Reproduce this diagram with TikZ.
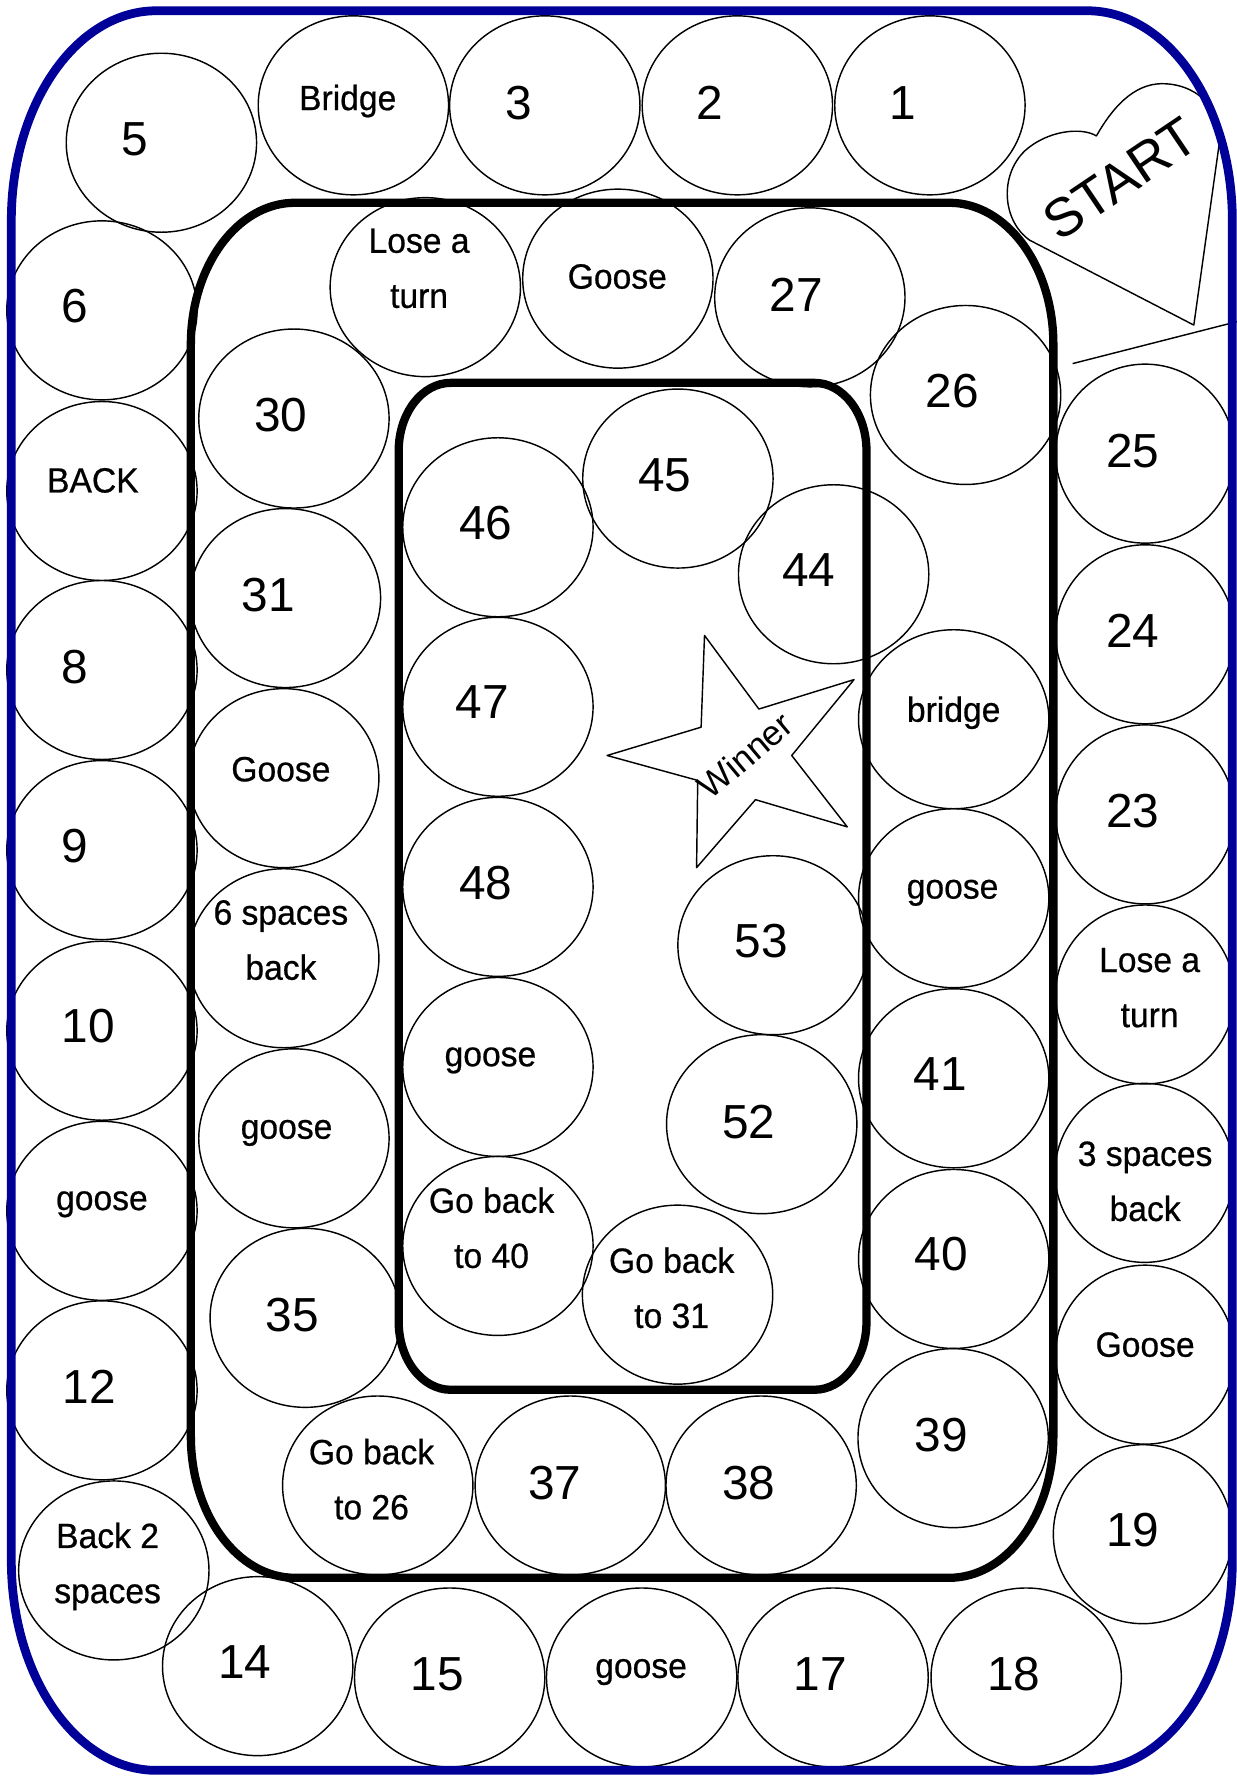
\documentclass[tikz,border=0pt]{standalone}
\usepackage{fontspec}
\setmainfont{Liberation Sans}
\newfontfamily\wordfont[FakeBold=0.6, FakeStretch=0.96]{Liberation Sans}
\usetikzlibrary{shapes.geometric}
\definecolor{boardblue}{RGB}{0,0,153}
\tikzset{
 spot/.style={ellipse, draw, line width=0.9pt, minimum width=4.2cm, minimum height=3.95cm, inner sep=0pt},
 spotn/.style={spot, minimum width=3.95cm},
 numlabel/.style={font=\fontsize{30}{36}\selectfont, inner sep=0pt, text depth=0pt},
 wordlabel/.style={font=\wordfont\fontsize{22}{34.6}\selectfont, inner sep=0pt, text depth=0pt},
 twolabel/.style={font=\wordfont\fontsize{22}{34.6}\selectfont, inner sep=0pt, align=center},
 ringline/.style={line width=5.2pt},
 blueedge/.style={draw=boardblue, line width=5.5pt},
 thinline/.style={line width=0.9pt, line join=round}
}
\begin{document}
\begin{tikzpicture}[x=0.025cm,y=-0.025cm]
\useasboundingbox (0,0) rectangle (1092,1568);
\fill[white] (0,0) rectangle (1092,1568);

% ---------- outer ring ----------
\node[spot] (o5) at (142.5,126) {};
\node[spot] (o4) at (312,93) {};
\node[spot] (o3) at (481,93) {};
\node[spot] (o2) at (651,93) {};
\node[spot] (o1) at (821,93) {};
\node[spot] (o6) at (90,274) {};
\node[spot] (o7) at (90,433.5) {};
\node[spot] (o8) at (90,591.5) {};
\node[spot] (o9) at (90,750.5) {};
\node[spot] (o10) at (90,910) {};
\node[spot] (o11) at (90,1069) {};
\node[spot] (o12) at (90,1227.5) {};
\node[spot] (o13) at (100.5,1386.5) {};
\node[spot] (o14) at (227.5,1471) {};
\node[spot] (o15) at (397,1481) {};
\node[spot] (o16) at (566.5,1481) {};
\node[spot] (o17) at (735.5,1481) {};
\node[spot] (o18) at (906,1481) {};
\node[spotn] (o19) at (1009,1354.5) {};
\node[spotn] (o20) at (1011,1196) {};
\node[spotn] (o21) at (1010.5,1035.5) {};
\node[spotn] (o22) at (1011,878) {};
\node[spotn] (o23) at (1011,719) {};
\node[spotn] (o24) at (1011,560) {};
\node[spotn] (o25) at (1011,400.5) {};

\node[numlabel] (t5) at (119,123) {5};
\node[wordlabel] (t4) at (307,86) {Bridge};
\node[numlabel] (t3) at (458,91) {3};
\node[numlabel] (t2) at (627,91) {2};
\node[numlabel] (t1) at (797,91) {1};
\node[numlabel] (t6) at (66,270) {6};
\node[wordlabel] (t7) at (82,424) {BACK};
\node[numlabel] (t8) at (66,589) {8};
\node[numlabel] (t9) at (66,747) {9};
\node[numlabel] (t10) at (78,906) {10};
\node[wordlabel] (t11) at (90,1060) {goose};
\node[numlabel] (t12) at (79,1224) {12};
\node[twolabel] (t13) at (95,1383) {Back 2\\spaces};
\node[numlabel] (t14) at (216,1467) {14};
\node[numlabel] (t15) at (386,1478) {15};
\node[wordlabel] (t16) at (566,1473) {goose};
\node[numlabel] (t17) at (724,1478) {17};
\node[numlabel] (t18) at (895,1478) {18};
\node[numlabel] (t19) at (1000,1351) {19};
\node[wordlabel] (t20) at (1011,1187) {Goose};
\node[twolabel] (t21) at (1011,1043) {3 spaces\\back};
\node[twolabel] (t22) at (1015,872) {Lose a\\turn};
\node[numlabel] (t23) at (1000,716) {23};
\node[numlabel] (t24) at (1000,557) {24};
\node[numlabel] (t25) at (1000,398) {25};

% ---------- middle ring ----------
\node[spot] (m26) at (852.5,348.7) {};
\node[spot] (m27) at (715,262.5) {};
\node[spot] (m28) at (545.5,246) {};
\node[spot] (m29) at (375.5,253.5) {};
\node[spot] (m30) at (259.5,369.5) {};
\node[spot] (m31) at (252,528) {};
\node[spot] (m32) at (250.5,687) {};
\node[spot] (m33) at (250.5,846) {};
\node[spot] (m34) at (259.5,1005) {};
\node[spot] (m35) at (269.5,1163.5) {};
\node[spot] (m36) at (333.5,1311.5) {};
\node[spot] (m37) at (503.5,1311.5) {};
\node[spot] (m38) at (672,1311.5) {};
\node[spot] (m39) at (841.5,1269.7) {};
\node[spot] (m40) at (842,1111.5) {};
\node[spot] (m41) at (842,952) {};
\node[spot] (m42) at (842,793) {};
\node[spot] (m43) at (842,635) {};

\node[numlabel] (u26) at (841,345) {26};
\node[numlabel] (u27) at (703,260) {27};
\node[wordlabel] (u28) at (545,244) {Goose};
\node[twolabel] (u29) at (370,237) {Lose a\\turn};
\node[numlabel] (u30) at (248,366) {30};
\node[numlabel] (u31) at (237,525) {31};
\node[wordlabel] (u32) at (248,679) {Goose};
\node[twolabel] (u33) at (248,830) {6 spaces\\back};
\node[wordlabel] (u34) at (253,997) {goose};
\node[numlabel] (u35) at (258,1161) {35};
\node[twolabel] (u36) at (328,1306) {Go back\\to 26};
\node[numlabel] (u37) at (490,1309) {37};
\node[numlabel] (u38) at (661,1309) {38};
\node[numlabel] (u39) at (831,1267) {39};
\node[numlabel] (u40) at (831,1107) {40};
\node[numlabel] (u41) at (830,948) {41};
\node[wordlabel] (u42) at (841,785) {goose};
\node[wordlabel] (u43) at (842,626) {bridge};

% ---------- inner ring ----------
\node[spot] (i44) at (736,507) {};
\node[spot] (i45) at (598.5,422.5) {};
\node[spot] (i46) at (439.6,465.5) {};
\node[spot] (i47) at (439.6,624) {};
\node[spot] (i48) at (439.6,783) {};
\node[spot] (i49) at (439.6,942) {};
\node[spot] (i50) at (439.6,1100) {};
\node[spot] (i51) at (598.2,1143) {};
\node[spot] (i52) at (672.5,992.5) {};
\node[spot] (i53) at (682.5,834.5) {};

\node[numlabel] (v44) at (714,503) {44};
\node[numlabel] (v45) at (587,419) {45};
\node[numlabel] (v46) at (429,462) {46};
\node[numlabel] (v47) at (426,620) {47};
\node[numlabel] (v48) at (429,779) {48};
\node[wordlabel] (v49) at (433,933) {goose};
\node[twolabel] (v50) at (434,1084) {Go back\\to 40};
\node[twolabel] (v51) at (593,1137) {Go back\\to 31};
\node[numlabel] (v52) at (661,990) {52};
\node[numlabel] (v53) at (672,831) {53};

% ---------- winner star ----------
\draw[thinline] (622,561) -- (670,626) -- (754,600) -- (699,667) -- (748,730)
  -- (667,706) -- (615,766) -- (616,689) -- (536,667) -- (619,642) -- cycle;
\node[rotate=40, font=\fontsize{22}{26}\selectfont, inner sep=0pt] (winner) at (658,667) {Winner};

% ---------- start heart ----------
\draw[thinline] (1054,287) -- (909,212)
  .. controls (885,195) and (882,155) .. (905,133)
  .. controls (925,115) and (955,112) .. (968,120)
  .. controls (985,90) and (1005,72) .. (1030,74)
  .. controls (1060,76) and (1082,100) .. (1076,130)
  -- cycle;
\node[rotate=34, font=\fontsize{34}{40}\selectfont, inner sep=0pt] (start) at (989,158) {START};
\coordinate (h1) at (947,321);
\coordinate (h2) at (1092,284);
\draw[thinline] (h1) -- (h2);

% ---------- track borders ----------
\draw[ringline] (260.5,179) -- (838,179)
  arc[start angle=-90, end angle=0, x radius=92, y radius=125] -- (930,1268)
  arc[start angle=0, end angle=90, x radius=92, y radius=125] -- (260.5,1393)
  arc[start angle=90, end angle=180, x radius=92, y radius=125] -- (168.5,304)
  arc[start angle=180, end angle=270, x radius=92, y radius=125] -- cycle;

\draw[ringline] (398,338) -- (719,338)
  arc[start angle=-90, end angle=0, x radius=46, y radius=60] -- (765,1167)
  arc[start angle=0, end angle=90, x radius=46, y radius=60] -- (398,1227)
  arc[start angle=90, end angle=180, x radius=46, y radius=60] -- (352,398)
  arc[start angle=180, end angle=270, x radius=46, y radius=60] -- cycle;

\draw[blueedge] (138,9.5) -- (960,9.5)
  arc[start angle=-90, end angle=0, x radius=128, y radius=185] -- (1088,1378)
  arc[start angle=0, end angle=90, x radius=128, y radius=185] -- (138,1563)
  arc[start angle=90, end angle=180, x radius=128, y radius=185] -- (10,194.5)
  arc[start angle=180, end angle=270, x radius=128, y radius=185] -- cycle;
\end{tikzpicture}
\end{document}
